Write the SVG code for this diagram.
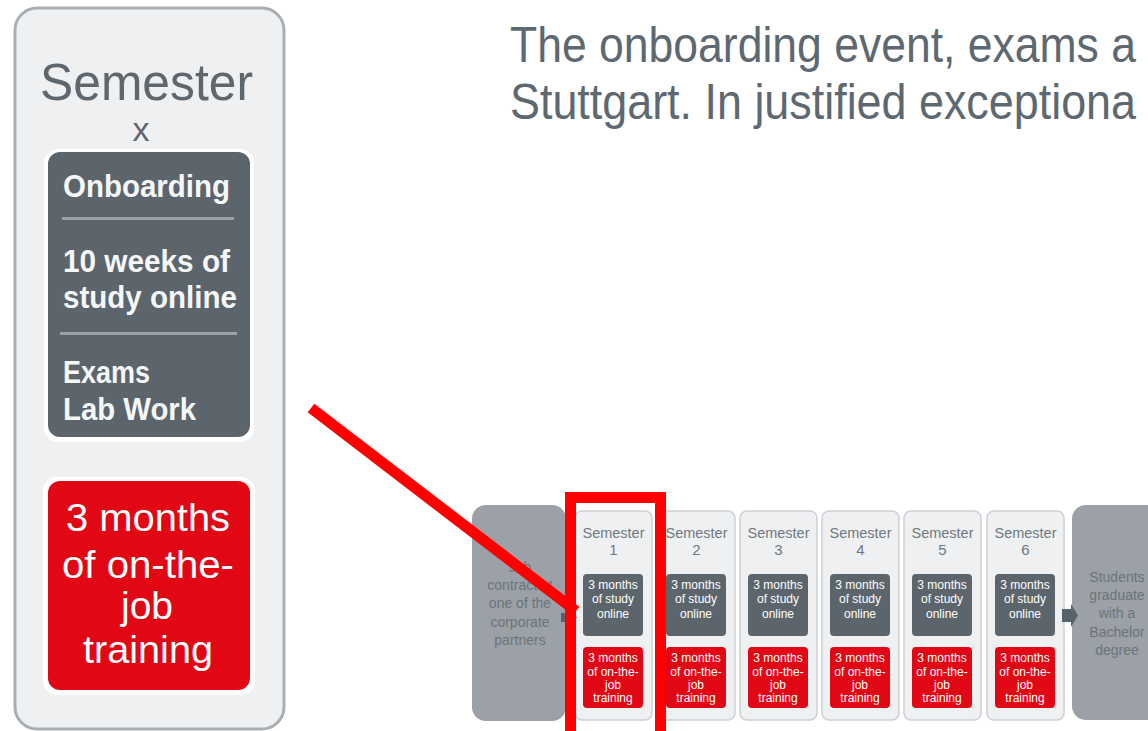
<svg xmlns="http://www.w3.org/2000/svg" width="1148" height="731" viewBox="0 0 1148 731">
<style>
text{font-family:"Liberation Sans",Arial,sans-serif;}
.head{font-size:50px;fill:#5d6870;}
.card{fill:#eef0f2;stroke:#cdd1d5;stroke-width:1.5;}
.dark{fill:#5c656c;}
.red{fill:#e20714;}
.grey{fill:#9ba1a7;}
.ct{font-size:15px;fill:#6f787f;text-anchor:middle;}
.wt{font-size:12px;fill:#ffffff;text-anchor:middle;}
.gt{font-size:14px;fill:#6b747b;text-anchor:middle;}
.bw{font-weight:bold;font-size:32px;fill:#f5f7f9;}
.rw{font-size:39px;fill:#ffffff;}
.conn{fill:#58626a;}
</style>
<rect width="1148" height="731" fill="#ffffff"/>

<g id="heading">
<text class="head" x="510" y="62" textLength="626" lengthAdjust="spacingAndGlyphs">The onboarding event, exams a</text>
<text class="head" x="510" y="119" textLength="626" lengthAdjust="spacingAndGlyphs">Stuttgart. In justified exceptiona</text>
</g>

<g id="semester-x-detail">
<rect x="15" y="8" width="269" height="721" rx="22" fill="#eef0f2" stroke="#a9aeb3" stroke-width="3"/>
<text x="40" y="100" font-size="52" fill="#5f676e" textLength="213" lengthAdjust="spacingAndGlyphs">Semester</text>
<text x="141" y="141" font-size="34" fill="#5f676e" text-anchor="middle">x</text>
<rect x="44" y="149" width="210" height="293" rx="14" fill="#ffffff"/>
<rect x="48" y="152" width="202" height="285" rx="12" class="dark"/>
<text class="bw" x="63" y="197" textLength="167" lengthAdjust="spacingAndGlyphs">Onboarding</text>
<rect x="62" y="217" width="172" height="3" fill="#99a0a6"/>
<text class="bw" x="63" y="272" textLength="167" lengthAdjust="spacingAndGlyphs">10 weeks of</text>
<text class="bw" x="63" y="308" textLength="174" lengthAdjust="spacingAndGlyphs">study online</text>
<rect x="60" y="332" width="177" height="3" fill="#99a0a6"/>
<text class="bw" x="63" y="383" textLength="87" lengthAdjust="spacingAndGlyphs">Exams</text>
<text class="bw" x="63" y="420" textLength="133" lengthAdjust="spacingAndGlyphs">Lab Work</text>
<rect x="43" y="477" width="212" height="218" rx="14" fill="#ffffff"/>
<rect x="48" y="481" width="202" height="209" rx="12" class="red"/>
<text class="rw" x="66" y="531" textLength="164" lengthAdjust="spacingAndGlyphs">3 months</text>
<text class="rw" x="62" y="578" textLength="172" lengthAdjust="spacingAndGlyphs">of on-the-</text>
<text class="rw" x="147" y="619" text-anchor="middle">job</text>
<text class="rw" x="83" y="663" textLength="130" lengthAdjust="spacingAndGlyphs">training</text>
</g>

<g id="job-contract">
<rect x="472" y="505" width="94" height="216" rx="14" class="grey"/>
<text class="gt" x="520" y="572">Job</text>
<text class="gt" x="520" y="590">contract at</text>
<text class="gt" x="520" y="608">one of the</text>
<text class="gt" x="520" y="627">corporate</text>
<text class="gt" x="520" y="645">partners</text>
</g>

<g id="semester-1">
<rect class="card" x="575" y="511" width="77" height="209" rx="7"/>
<text class="ct" x="613.5" y="538" textLength="62" lengthAdjust="spacingAndGlyphs">Semester</text>
<text class="ct" x="613.5" y="555">1</text>
<rect class="dark" x="583" y="574" width="60" height="62" rx="4"/>
<text class="wt" x="613" y="589">3 months</text>
<text class="wt" x="613" y="603">of study</text>
<text class="wt" x="613" y="618">online</text>
<rect class="red" x="583" y="647" width="60" height="61" rx="4"/>
<text class="wt" x="613" y="662">3 months</text>
<text class="wt" x="613" y="676">of on-the-</text>
<text class="wt" x="613" y="689">job</text>
<text class="wt" x="613" y="702">training</text>
</g>

<g id="semester-2">
<rect class="card" x="658" y="511" width="77" height="209" rx="7"/>
<text class="ct" x="696.5" y="538" textLength="62" lengthAdjust="spacingAndGlyphs">Semester</text>
<text class="ct" x="696.5" y="555">2</text>
<rect class="dark" x="666" y="574" width="60" height="62" rx="4"/>
<text class="wt" x="696" y="589">3 months</text>
<text class="wt" x="696" y="603">of study</text>
<text class="wt" x="696" y="618">online</text>
<rect class="red" x="666" y="647" width="60" height="61" rx="4"/>
<text class="wt" x="696" y="662">3 months</text>
<text class="wt" x="696" y="676">of on-the-</text>
<text class="wt" x="696" y="689">job</text>
<text class="wt" x="696" y="702">training</text>
</g>

<g id="semester-3">
<rect class="card" x="740" y="511" width="77" height="209" rx="7"/>
<text class="ct" x="778.5" y="538" textLength="62" lengthAdjust="spacingAndGlyphs">Semester</text>
<text class="ct" x="778.5" y="555">3</text>
<rect class="dark" x="748" y="574" width="60" height="62" rx="4"/>
<text class="wt" x="778" y="589">3 months</text>
<text class="wt" x="778" y="603">of study</text>
<text class="wt" x="778" y="618">online</text>
<rect class="red" x="748" y="647" width="60" height="61" rx="4"/>
<text class="wt" x="778" y="662">3 months</text>
<text class="wt" x="778" y="676">of on-the-</text>
<text class="wt" x="778" y="689">job</text>
<text class="wt" x="778" y="702">training</text>
</g>

<g id="semester-4">
<rect class="card" x="822" y="511" width="77" height="209" rx="7"/>
<text class="ct" x="860.5" y="538" textLength="62" lengthAdjust="spacingAndGlyphs">Semester</text>
<text class="ct" x="860.5" y="555">4</text>
<rect class="dark" x="830" y="574" width="60" height="62" rx="4"/>
<text class="wt" x="860" y="589">3 months</text>
<text class="wt" x="860" y="603">of study</text>
<text class="wt" x="860" y="618">online</text>
<rect class="red" x="830" y="647" width="60" height="61" rx="4"/>
<text class="wt" x="860" y="662">3 months</text>
<text class="wt" x="860" y="676">of on-the-</text>
<text class="wt" x="860" y="689">job</text>
<text class="wt" x="860" y="702">training</text>
</g>

<g id="semester-5">
<rect class="card" x="904" y="511" width="77" height="209" rx="7"/>
<text class="ct" x="942.5" y="538" textLength="62" lengthAdjust="spacingAndGlyphs">Semester</text>
<text class="ct" x="942.5" y="555">5</text>
<rect class="dark" x="912" y="574" width="60" height="62" rx="4"/>
<text class="wt" x="942" y="589">3 months</text>
<text class="wt" x="942" y="603">of study</text>
<text class="wt" x="942" y="618">online</text>
<rect class="red" x="912" y="647" width="60" height="61" rx="4"/>
<text class="wt" x="942" y="662">3 months</text>
<text class="wt" x="942" y="676">of on-the-</text>
<text class="wt" x="942" y="689">job</text>
<text class="wt" x="942" y="702">training</text>
</g>

<g id="semester-6">
<rect class="card" x="987" y="511" width="77" height="209" rx="7"/>
<text class="ct" x="1025.5" y="538" textLength="62" lengthAdjust="spacingAndGlyphs">Semester</text>
<text class="ct" x="1025.5" y="555">6</text>
<rect class="dark" x="995" y="574" width="60" height="62" rx="4"/>
<text class="wt" x="1025" y="589">3 months</text>
<text class="wt" x="1025" y="603">of study</text>
<text class="wt" x="1025" y="618">online</text>
<rect class="red" x="995" y="647" width="60" height="61" rx="4"/>
<text class="wt" x="1025" y="662">3 months</text>
<text class="wt" x="1025" y="676">of on-the-</text>
<text class="wt" x="1025" y="689">job</text>
<text class="wt" x="1025" y="702">training</text>
</g>

<g id="graduate">
<rect x="1072" y="505" width="100" height="215" rx="14" class="grey"/>
<text class="gt" x="1117" y="582">Students</text>
<text class="gt" x="1117" y="600">graduate</text>
<text class="gt" x="1117" y="618">with a</text>
<text class="gt" x="1117" y="637">Bachelor</text>
<text class="gt" x="1117" y="655">degree</text>
</g>

<g id="connectors">
<path class="conn" d="M561,613 H569 V607 L577,617.5 L569,628 V622 H561 Z"/>
<path class="conn" d="M1062,609 H1071 V604 L1078,615.5 L1071,627 V622 H1062 Z"/>
</g>

<g id="highlight">
<rect x="570.5" y="497.5" width="90" height="260" fill="none" stroke="#ff0000" stroke-width="11"/>
<line x1="311" y1="408" x2="576" y2="611" stroke="#ff0000" stroke-width="11"/>
</g>
</svg>
